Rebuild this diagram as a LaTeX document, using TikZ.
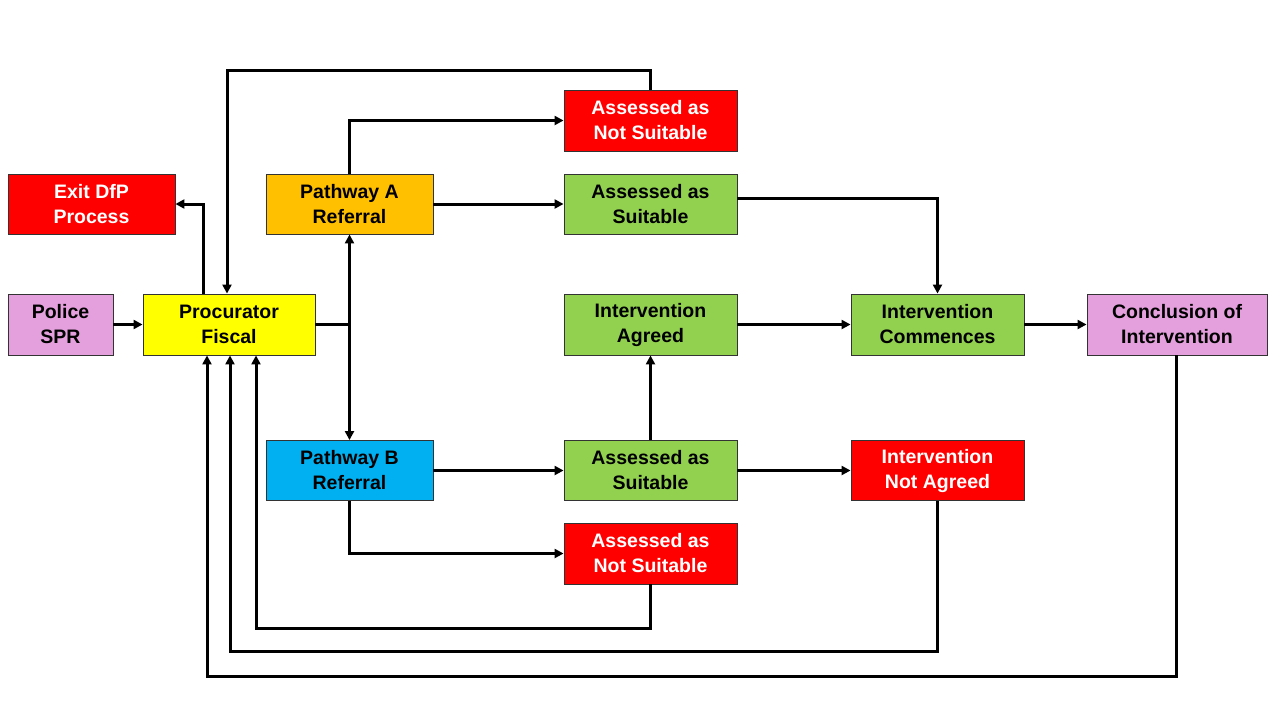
\documentclass[tikz,border=0pt]{standalone}
\usepackage{fontspec}
\setmainfont{Liberation Sans}
\usetikzlibrary{arrows.meta}
\definecolor{dfpink}{RGB}{228,160,221}
\definecolor{dfyellow}{RGB}{255,255,0}
\definecolor{dforange}{RGB}{255,192,0}
\definecolor{dfblue}{RGB}{0,176,240}
\definecolor{dfgreen}{RGB}{146,208,80}
\definecolor{dfred}{RGB}{255,0,0}
\begin{document}
\begin{tikzpicture}[x=1pt, y=-1pt,
  box/.style={draw=black!80, line width=0.9pt, minimum height=61pt, align=center,
    font=\fontsize{19.5}{25}\selectfont\bfseries, inner sep=0pt},
  redbox/.style={box, fill=dfred, text=white},
  arr/.style={line width=3pt, -{Triangle[length=9pt,width=9pt]}},
  ln/.style={line width=3pt}]
\useasboundingbox (0,0) rectangle (1280,720);
% boxes
\node[box, fill=dfpink, minimum width=105pt] (police) at (60.5,324.5) {Police\\SPR};
\node[box, fill=dfyellow, minimum width=172pt] (pf) at (229,324.5) {Procurator\\Fiscal};
\node[redbox, minimum width=167pt, minimum height=60pt] (exit) at (91.5,204) {Exit DfP\\Process};
\node[box, fill=dforange, minimum width=167pt, minimum height=60pt] (pa) at (349.5,204) {Pathway A\\Referral};
\node[box, fill=dfblue, minimum width=167pt, minimum height=60pt] (pb) at (349.5,470.5) {Pathway B\\Referral};
\node[redbox, minimum width=173pt] (nsA) at (650.5,120.5) {Assessed as\\Not Suitable};
\node[box, fill=dfgreen, minimum width=173pt, minimum height=60pt] (sA) at (650.5,204) {Assessed as\\Suitable};
\node[box, fill=dfgreen, minimum width=173pt] (agreed) at (650.5,324.5) {Intervention\\Agreed};
\node[box, fill=dfgreen, minimum width=173pt, minimum height=60pt] (sB) at (650.5,470.5) {Assessed as\\Suitable};
\node[redbox, minimum width=173pt] (nsB) at (650.5,553.5) {Assessed as\\Not Suitable};
\node[box, fill=dfgreen, minimum width=173pt] (comm) at (937.5,324.5) {Intervention\\Commences};
\node[redbox, minimum width=173pt, minimum height=60pt] (notag) at (937.5,470.5) {Intervention\\Not Agreed};
\node[box, fill=dfpink, minimum width=180pt] (concl) at (1177,324.5) {Conclusion of\\Intervention};
\coordinate (j) at (349.5,324.5);
% connectors
\draw[arr] (police) -- (pf);
\draw[ln] (pf.east) -- (j);
\draw[arr] (j) -- (pa.south);
\draw[arr] (j) -- (pb.north);
\draw[arr] ([xshift=-26pt]pf.north) |- (exit.east);
\draw[arr] (nsA.north) |- (227,70) -- ([xshift=-2pt]pf.north);
\draw[arr] (pa.north) |- (nsA.west);
\draw[arr] (pa.east) -- (sA.west);
\draw[arr] ([yshift=6pt]sA.east) -| (comm.north);
\draw[arr] (agreed) -- (comm);
\draw[arr] (comm) -- (concl);
\draw[arr] (pb.east) -- (sB.west);
\draw[arr] (sB.north) -- (agreed.south);
\draw[arr] (sB.east) -- (notag.west);
\draw[arr] (pb.south) |- (nsB.west);
% loops back to the fiscal
\draw[arr] (nsB.south) |- (256,628) -- ([xshift=27pt]pf.south);
\draw[arr] (notag.south) |- (230,651) -- ([xshift=1pt]pf.south);
\draw[arr] ([xshift=-1pt]concl.south) |- (207,676) -- ([xshift=-22pt]pf.south);
\end{tikzpicture}
\end{document}
